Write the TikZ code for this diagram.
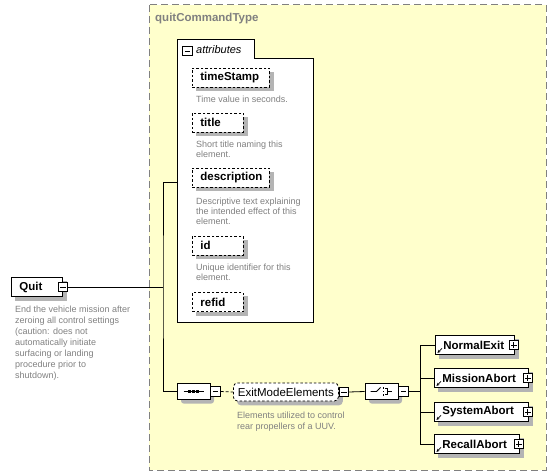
\documentclass[tikz,border=0pt]{standalone}
\usepackage{fontspec}
\setmainfont{Liberation Sans}
\usetikzlibrary{shapes.misc, arrows.meta, calc}

\definecolor{typefill}{RGB}{255,255,204}
\definecolor{typeline}{RGB}{128,128,128}
\definecolor{notegray}{RGB}{128,128,128}
\definecolor{shadowgray}{RGB}{180,180,180}

\pgfdeclarelayer{typelayer}
\pgfdeclarelayer{shadowlayer}
\pgfsetlayers{typelayer,shadowlayer,main}

\tikzset{
  link/.style={line width=0.8pt},
  boxshadow/.style={fill=shadowgray, draw=none},
  namebox/.style={draw, fill=white, line width=0.8pt, anchor=west, minimum height=19pt,
    inner xsep=0pt, inner ysep=0pt, align=left,
    font=\fontsize{11.5}{13}\selectfont\bfseries, execute at begin node=\hspace*{8pt}},
  attrname/.style={namebox, dash pattern=on 2.5pt off 2pt},
  refname/.style={namebox},
  minusbox/.style={draw, fill=white, line width=0.7pt, minimum size=9.5pt, inner sep=0pt,
    path picture={\draw[line width=0.7pt] ([xshift=2pt]path picture bounding box.west) -- ([xshift=-2pt]path picture bounding box.east);}},
  plusbox/.style={draw, fill=white, line width=0.7pt, minimum size=9.5pt, inner sep=0pt,
    path picture={\draw[line width=0.7pt] ([xshift=2pt]path picture bounding box.west) -- ([xshift=-2pt]path picture bounding box.east);
      \draw[line width=0.7pt] ([yshift=-2pt]path picture bounding box.north) -- ([yshift=2pt]path picture bounding box.south);}},
  compositor/.style={chamfered rectangle, chamfered rectangle sep=4pt, draw, fill=white, line width=0.8pt,
    minimum width=33pt, minimum height=16pt, inner sep=0pt},
  notetext/.style={anchor=north west, align=left, inner sep=0pt, text=notegray,
    font=\fontsize{9}{10}\selectfont},
  refarrow/.style={line width=0.7pt, -{Stealth[length=3pt, width=3pt]}}
}

\begin{document}
\begin{tikzpicture}[x=1pt, y=-1pt]
  \useasboundingbox (0,0) rectangle (560,476);

  % complex type box and attribute group
  \begin{pgfonlayer}{typelayer}
    \draw[fill=typefill, draw=typeline, line width=1pt, dash pattern=on 7pt off 4pt] (149,5) rectangle (546,470);
    \draw[fill=white, line width=0.8pt] (177,322) -- (177,39) -- (254,39) -- (254,58) -- (313,58) -- (313,322) -- cycle;
  \end{pgfonlayer}
  \node[anchor=west, inner sep=0pt, text=typeline, font=\fontsize{11.5}{13}\selectfont\bfseries] (typename) at (155,19) {quitCommandType};

  % root element
  \node[namebox, text width=51pt] (quit) at (11,287) {Quit};
  \node[minusbox] (quitpm) at (quit.east) {};
  \node[notetext, font=\fontsize{9}{11}\selectfont] (quitnote) at (15,305.5) {End the vehicle mission after\\zeroing all control settings\\(caution: does not\\automatically initiate\\surfacing or landing\\procedure prior to\\shutdown).};

  % attributes
  \node[minusbox] (attrpm) at (187.5,51) {};
  \node[anchor=west, inner sep=0pt, font=\fontsize{11}{13}\selectfont\itshape] (attrlabel) at (196,50) {attributes};
  \coordinate (attrin) at (177,182);

  \node[attrname, text width=77pt] (timestamp) at (192,77.5) {timeStamp};
  \node[notetext] (timestampnote) at (196,95.5) {Time value in seconds.};
  \node[attrname, text width=51pt] (title) at (192,122.5) {title};
  \node[notetext] (titlenote) at (196,140.5) {Short title naming this\\element.};
  \node[attrname, text width=77pt] (description) at (192,177.5) {description};
  \node[notetext] (descriptionnote) at (196,197.5) {Descriptive text explaining\\the intended effect of this\\element.};
  \node[attrname, text width=51pt] (id) at (192,245.5) {id};
  \node[notetext] (idnote) at (196,263.5) {Unique identifier for this\\element.};
  \node[attrname, text width=51pt] (refid) at (192,302) {refid};

  % sequence
  \node[compositor] (seq) at (193.5,391.5) {};
  \node[minusbox, anchor=west] (seqpm) at (seq.east) {};
  \draw[line width=0.8pt] ([xshift=-10pt]seq.center) -- ([xshift=10pt]seq.center);
  \foreach \dx in {-4,0,4}
    \fill ([xshift=\dx pt]seq.center) ++(-1.3pt,-1.3pt) rectangle ++(2.6pt,2.6pt);

  % group reference
  \node[draw, fill=white, line width=0.8pt, dash pattern=on 2.5pt off 2pt, rounded corners=4pt, anchor=west,
    minimum width=105pt, minimum height=18pt, inner sep=0pt,
    font=\fontsize{11.5}{13}\selectfont] (exitmode) at (233,392) {ExitModeElements};
  \node[minusbox, anchor=west] (exitpm) at (exitmode.east) {};
  \node[notetext, font=\fontsize{9}{11}\selectfont] (exitnote) at (237,411.5) {Elements utilized to control\\rear propellers of a UUV.};

  % choice
  \node[compositor] (choice) at (381.5,391.5) {};
  \node[minusbox, anchor=west] (choicepm) at (choice.east) {};
  \draw[line width=0.8pt] ([xshift=-11pt]choice.center) -- ([xshift=-5pt]choice.center) -- ([xshift=-1pt, yshift=4pt]choice.center);
  \foreach \dy in {-3.2,0,3.2}
    \fill ([xshift=2pt, yshift=\dy pt]choice.center) ++(-0.9pt,-0.9pt) rectangle ++(1.8pt,1.8pt);
  \draw[line width=0.7pt] ([xshift=3.8pt, yshift=3.2pt]choice.center) -| ([xshift=5.5pt, yshift=-3.2pt]choice.center) -- ([xshift=3.8pt, yshift=-3.2pt]choice.center);
  \draw[line width=0.8pt] ([xshift=5.5pt]choice.center) -- ([xshift=10pt]choice.center);

  % referenced elements
  \node[refname, text width=79pt] (normalexit) at (435,345) {NormalExit};
  \node[refname, text width=94pt] (missionabort) at (434,378) {MissionAbort};
  \node[refname, text width=94pt] (systemabort) at (434,412) {SystemAbort};
  \node[refname, text width=85pt] (recallabort) at (434,444) {RecallAbort};
  \foreach \e in {normalexit, missionabort, systemabort, recallabort} {
    \node[plusbox, xshift=-1pt] (\e pm) at (\e.east) {};
    \draw[refarrow] ([shift={(7pt,6.5pt)}]\e.south west) -- ([shift={(2.5pt,2pt)}]\e.south west);
  }

  % shadows
  \begin{pgfonlayer}{shadowlayer}
    \foreach \n in {quit, timestamp, title, description, id, refid, normalexit, missionabort, systemabort, recallabort}
      \path[boxshadow] ($(\n.south west)+(4,4)$) rectangle ($(\n.north east)+(4,4)$);
    \path[boxshadow, rounded corners=4pt] ($(exitmode.south west)+(4,4)$) rectangle ($(exitmode.north east)+(4,4)$);
    \foreach \n in {seq, choice}
      \path[boxshadow, rounded corners=3pt] ($(\n.south west)+(4,4)$) rectangle ($(\n.north east)+(4,4)$);
  \end{pgfonlayer}

  % connectors
  \coordinate (fork) at (163,287);
  \coordinate (choicefork) at (420,391.5);
  \draw[link] (quitpm.east) -- (fork);
  \draw[link] (attrin) -| (fork) |- (seq.west);
  \draw[link, dash pattern=on 3pt off 2pt] (seqpm.east) -- (exitmode.west);
  \draw[link] (exitpm.east) -- (choice.west);
  \draw[link] (choicepm.east) -- (choicefork);
  \foreach \e in {normalexit, missionabort, systemabort, recallabort}
    \draw[link] (choicefork) |- (\e.west);
\end{tikzpicture}
\end{document}
